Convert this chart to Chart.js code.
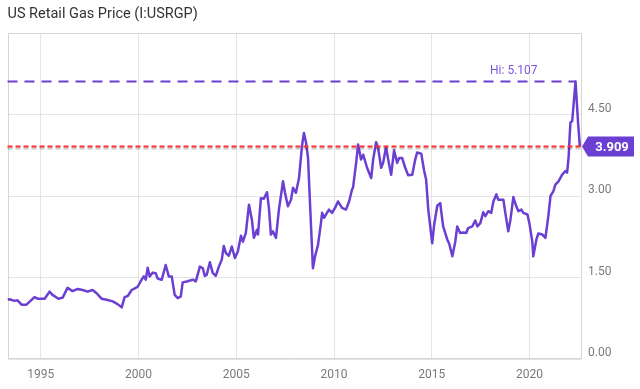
<!DOCTYPE html>
<html>
<head>
<meta charset="utf-8">
<script src="https://cdn.jsdelivr.net/npm/chart.js@4.4.1/dist/chart.umd.min.js"></script>
<style>
html,body{margin:0;padding:0;background:#fff;}
#wrap{width:640px;height:389px;position:relative;}
</style>
</head>
<body>
<div id="wrap"><canvas id="c" width="640" height="389"></canvas></div>
<script>
const chartTitle = 'US Retail Gas Price (I:USRGP)';

// decimal years
const dates = [
1993.30,1993.40,1993.66,1993.81,1994.02,1994.27,1994.68,1994.84,1995.20,1995.45,
1995.60,1995.91,1996.12,1996.37,1996.63,1996.89,1997.14,1997.40,1997.65,1997.86,
1998.11,1998.37,1998.68,1998.93,1999.14,1999.29,1999.45,1999.65,1999.81,1999.96,
2000.16,2000.27,2000.37,2000.47,2000.57,2000.73,2000.88,2000.98,2001.19,2001.39,
2001.55,2001.70,2001.85,2002.01,2002.16,2002.26,2002.52,2002.78,2002.93,2003.14,
2003.29,2003.39,2003.49,2003.65,2003.80,2003.95,2004.11,2004.26,2004.36,2004.47,
2004.62,2004.77,2004.93,2005.08,2005.24,2005.34,2005.49,2005.65,2005.80,2005.90,
2006.06,2006.11,2006.26,2006.41,2006.57,2006.67,2006.77,2006.87,2007.03,2007.18,
2007.39,2007.49,2007.64,2007.80,2007.90,2008.05,2008.21,2008.36,2008.46,2008.57,
2008.67,2008.77,2008.87,2008.92,2009.03,2009.18,2009.33,2009.39,2009.49,2009.64,
2009.74,2009.90,2010.05,2010.20,2010.41,2010.61,2010.77,2010.92,2010.97,2011.13,
2011.23,2011.38,2011.49,2011.69,2011.90,2012.00,2012.15,2012.25,2012.41,2012.51,
2012.66,2012.77,2012.92,2013.07,2013.23,2013.33,2013.48,2013.64,2013.79,2014.00,
2014.15,2014.25,2014.46,2014.61,2014.71,2014.82,2015.02,2015.12,2015.28,2015.43,
2015.58,2015.79,2015.89,2016.05,2016.20,2016.30,2016.45,2016.61,2016.76,2016.86,
2017.07,2017.22,2017.33,2017.48,2017.63,2017.74,2017.89,2018.04,2018.15,2018.30,
2018.40,2018.66,2018.76,2018.91,2019.02,2019.17,2019.32,2019.43,2019.58,2019.68,
2019.89,2019.99,2020.14,2020.19,2020.35,2020.45,2020.66,2020.81,2020.96,2021.07,
2021.22,2021.32,2021.48,2021.66,2021.83,2021.92,2022.00,2022.05,2022.09,2022.18,
2022.35,2022.48,2022.57
];

const prices = [
1.09,1.10,1.07,1.08,1.00,1.00,1.14,1.11,1.11,1.24,
1.18,1.11,1.13,1.31,1.25,1.29,1.27,1.24,1.27,1.21,
1.11,1.09,1.06,1.01,0.95,1.14,1.16,1.27,1.30,1.33,
1.46,1.52,1.46,1.68,1.52,1.59,1.58,1.48,1.46,1.73,
1.52,1.52,1.18,1.12,1.15,1.41,1.43,1.46,1.43,1.70,
1.67,1.53,1.55,1.78,1.58,1.53,1.70,1.83,2.08,1.95,
1.90,2.07,1.86,1.98,2.27,2.16,2.32,2.84,2.56,2.23,
2.38,2.29,2.96,2.95,3.07,2.78,2.29,2.35,2.23,2.75,
3.27,3.06,2.81,2.93,3.15,3.06,3.33,3.92,4.16,3.98,
3.70,2.87,2.07,1.67,1.89,2.10,2.50,2.69,2.60,2.69,
2.75,2.69,2.78,2.90,2.78,2.75,2.90,3.12,3.15,3.61,
3.95,3.67,3.76,3.52,3.33,3.67,3.99,3.89,3.52,3.61,
3.90,3.67,3.39,3.84,3.61,3.70,3.70,3.52,3.38,3.39,
3.67,3.80,3.78,3.46,3.30,2.75,2.13,2.47,2.82,2.87,
2.44,2.20,2.12,1.89,2.16,2.44,2.32,2.33,2.32,2.41,
2.44,2.55,2.44,2.50,2.70,2.63,2.72,2.69,2.90,3.03,
2.93,2.93,2.69,2.35,2.56,2.98,2.81,2.72,2.75,2.69,
2.66,2.50,2.16,1.89,2.20,2.31,2.29,2.23,2.63,3.00,
3.09,3.21,3.27,3.39,3.46,3.43,3.73,4.10,4.35,4.38,
5.107,4.35,3.909
];

const xTickYears = [1995, 2000, 2005, 2010, 2015, 2020];
const yTickValues = [0, 1.5, 3, 4.5];

const LINE_COLOR = '#6a3fd2';
const FONT = 'Roboto, "Noto Sans", sans-serif';

const annotationPlugin = {
  id: 'annot',
  beforeDatasetsDraw(chart) {
    const {ctx, chartArea: a} = chart;
    ctx.save();
    ctx.strokeStyle = '#d6d6d6';
    ctx.lineWidth = 1;
    ctx.strokeRect(Math.round(a.left) + 0.5, Math.round(a.top) + 0.5,
                   Math.round(a.right - a.left) - 1, Math.round(a.bottom - a.top) - 1);
    ctx.restore();
  },
  afterDatasetsDraw(chart) {
    const {ctx, chartArea: a, scales: {x, y}} = chart;
    // Hi line
    let hiIdx = 0;
    prices.forEach((v, i) => { if (v > prices[hiIdx]) hiIdx = i; });
    const hi = prices[hiIdx];
    const xHi = x.getPixelForValue(dates[hiIdx]);
    const yHi = y.getPixelForValue(hi);
    ctx.save();
    ctx.strokeStyle = LINE_COLOR;
    ctx.lineWidth = 2;
    ctx.setLineDash([10, 7]);
    ctx.beginPath();
    ctx.moveTo(a.left, yHi);
    ctx.lineTo(xHi, yHi);
    ctx.stroke();
    ctx.setLineDash([]);
    ctx.fillStyle = '#7b55da';
    ctx.font = '12px ' + FONT;
    ctx.textAlign = 'right';
    ctx.textBaseline = 'middle';
    ctx.fillText('Hi: ' + hi.toFixed(3), xHi - 38, yHi - 11);

    // last value line
    const last = prices[prices.length - 1];
    const yL = y.getPixelForValue(last);
    ctx.setLineDash([5, 3]);
    ctx.lineWidth = 2;
    ctx.strokeStyle = 'rgba(0,0,0,0.22)';
    ctx.beginPath();
    ctx.moveTo(a.left, yL + 2);
    ctx.lineTo(a.right, yL + 2);
    ctx.stroke();
    ctx.strokeStyle = '#ff2a2a';
    ctx.beginPath();
    ctx.moveTo(a.left, yL);
    ctx.lineTo(a.right, yL);
    ctx.stroke();
    ctx.setLineDash([]);

    // value tag
    const tip = a.right + 1;
    const bodyL = tip + 6, bodyR = 634, h = 20;
    ctx.fillStyle = LINE_COLOR;
    ctx.beginPath();
    ctx.moveTo(tip, yL);
    ctx.lineTo(bodyL, yL - h / 2);
    ctx.lineTo(bodyR, yL - h / 2);
    ctx.lineTo(bodyR, yL + h / 2);
    ctx.lineTo(bodyL, yL + h / 2);
    ctx.closePath();
    ctx.fill();
    ctx.fillStyle = '#ffffff';
    ctx.font = 'bold 13px ' + FONT;
    ctx.textAlign = 'center';
    ctx.textBaseline = 'middle';
    ctx.fillText(last.toFixed(3), (bodyL + bodyR) / 2 + 1, yL + 1);
    ctx.restore();
  }
};

new Chart(document.getElementById('c'), {
  type: 'line',
  data: {
    datasets: [{
      data: dates.map((d, i) => ({x: d, y: prices[i]})),
      borderColor: LINE_COLOR,
      borderWidth: 2.5,
      pointRadius: 0,
      tension: 0,
      fill: false,
      borderJoinStyle: 'round'
    }]
  },
  options: {
    responsive: false,
    animation: false,
    devicePixelRatio: 1,
    layout: {padding: {left: 7.5, right: 0, top: 0, bottom: 0}},
    plugins: {
      legend: {display: false},
      tooltip: {enabled: false},
      title: {
        display: true,
        text: chartTitle,
        align: 'start',
        color: '#333333',
        font: {family: FONT, size: 14.5, weight: 'normal'},
        padding: {top: 6, bottom: 9.6}
      }
    },
    scales: {
      x: {
        type: 'linear',
        min: dates[0],
        max: 2022.63,
        afterBuildTicks: s => { s.ticks = xTickYears.map(v => ({value: v})); },
        afterFit: s => { s.height = 30; },
        grid: {color: '#e4e4e4', drawTicks: false},
        border: {display: false},
        ticks: {
          color: '#7a7a7a',
          font: {family: FONT, size: 12},
          padding: 9,
          maxRotation: 0,
          callback: v => String(v)
        }
      },
      y: {
        position: 'right',
        min: 0,
        max: 6.0,
        afterBuildTicks: s => { s.ticks = yTickValues.map(v => ({value: v})); },
        afterFit: s => { s.width = 59; },
        grid: {color: '#e4e4e4', drawTicks: false},
        border: {display: false},
        ticks: {
          color: '#7a7a7a',
          font: {family: FONT, size: 12},
          padding: 7,
          labelOffset: -6,
          crossAlign: 'near',
          callback: v => Number(v).toFixed(2)
        }
      }
    }
  },
  plugins: [annotationPlugin]
});
</script>
</body>
</html>
